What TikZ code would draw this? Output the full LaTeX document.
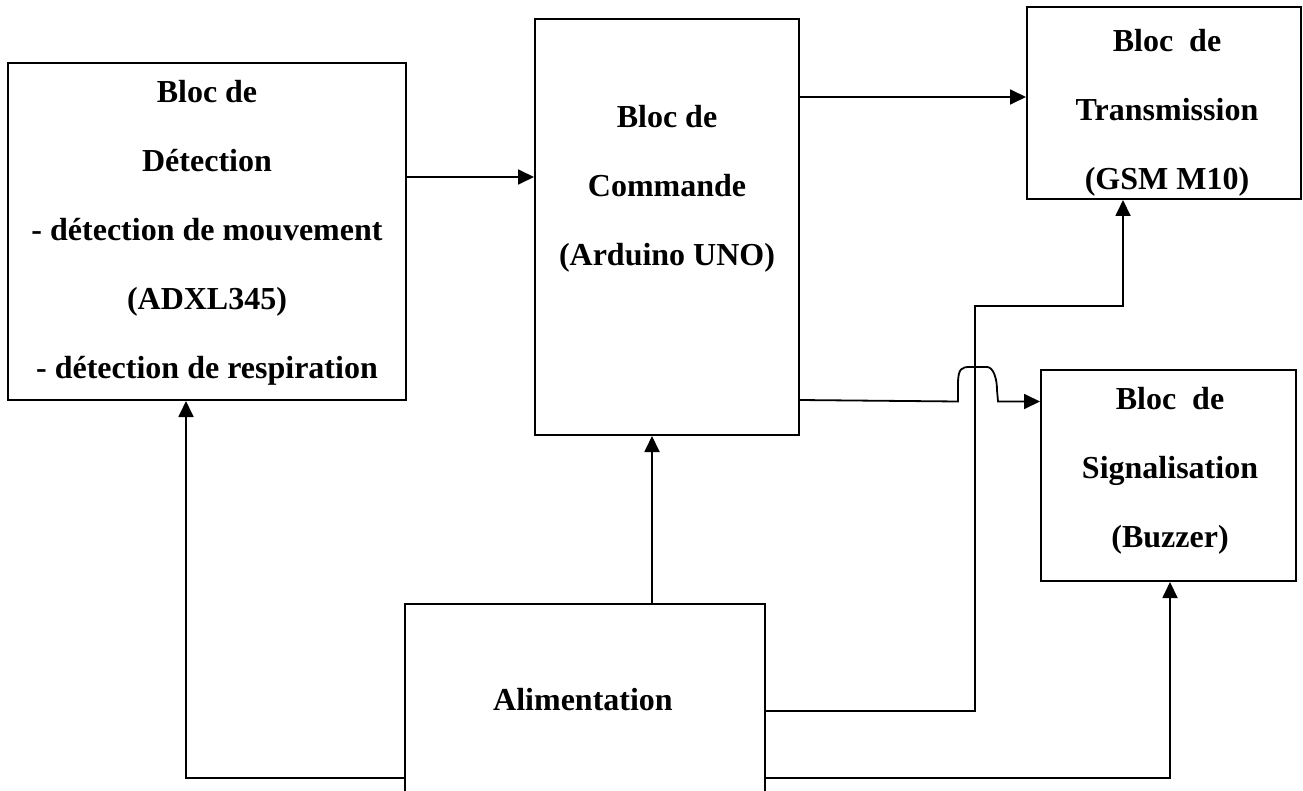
\documentclass[tikz,border=0pt]{standalone}
\usepackage{fontspec}
\setmainfont{Liberation Serif}
\usetikzlibrary{arrows.meta}
\begin{document}
\begin{tikzpicture}[x=1pt,y=-1pt,
  box/.style={draw=black,line width=2pt,rectangle,inner sep=0pt},
  txt/.style={align=center,inner sep=0pt,font=\fontsize{32}{69}\selectfont\bfseries},
  wire/.style={draw=black,line width=1.8pt},
  arr/.style={wire,-{Triangle[length=16pt,width=15pt]}}]
\clip (0,0) rectangle (1303,791);
\fill[white] (0,0) rectangle (1303,791);
% boxes
\node[box,minimum width=398pt,minimum height=337pt] (det) at (207,231.5) {};
\node[box,minimum width=264pt,minimum height=416pt] (cmd) at (667,227) {};
\node[box,minimum width=274pt,minimum height=192pt] (trans) at (1164,103) {};
\node[box,minimum width=255pt,minimum height=211pt] (sig) at (1168.5,475.5) {};
\node[box,minimum width=360pt,minimum height=216pt] (ali) at (585,712) {};
% texts
\node[txt] (tdet) at (207,232.5) {Bloc de\\Détection\\- détection de mouvement\\(ADXL345)\\- détection de respiration};
\node[txt] (tcmd) at (667,189) {Bloc de\\Commande\\(Arduino UNO)};
\node[txt] (ttrans) at (1167,113) {Bloc\ \ de\\Transmission\\(GSM M10)};
\node[txt] (tsig) at (1170,471) {Bloc\ \ de\\Signalisation\\(Buzzer)};
\node[txt] (tali) at (583,700) {Alimentation};
% connectors
\coordinate (d1) at (406,177);
\draw[arr] (d1) -- (d1 -| cmd.west);
\coordinate (c1) at (799,97);
\draw[arr] (c1) -- (c1 -| trans.west);
\coordinate (c2) at (799,400);
\draw[arr] (c2) -- (958,401.5) -- (958,384)
  .. controls (958,368) and (962,367) .. (970,367) -- (987,367)
  .. controls (993,367) and (997,378) .. (997,390) -- (998,401.5)
  -- (sig.west |- 0,401.5);
\coordinate (a1) at (652,604);
\draw[arr] (a1) -- (a1 |- cmd.south);
\coordinate (a2) at (405,778);
\draw[arr] (a2) -- (186,778) -- (186,0 |- det.south);
\coordinate (a3) at (765,711);
\draw[arr] (a3) -- (975,711) -- (975,306) -- (1123,306) -- (1123,0 |- trans.south);
\coordinate (a4) at (765,778);
\draw[arr] (a4) -- (1170,778) -- (1170,0 |- sig.south);
\end{tikzpicture}
\end{document}
